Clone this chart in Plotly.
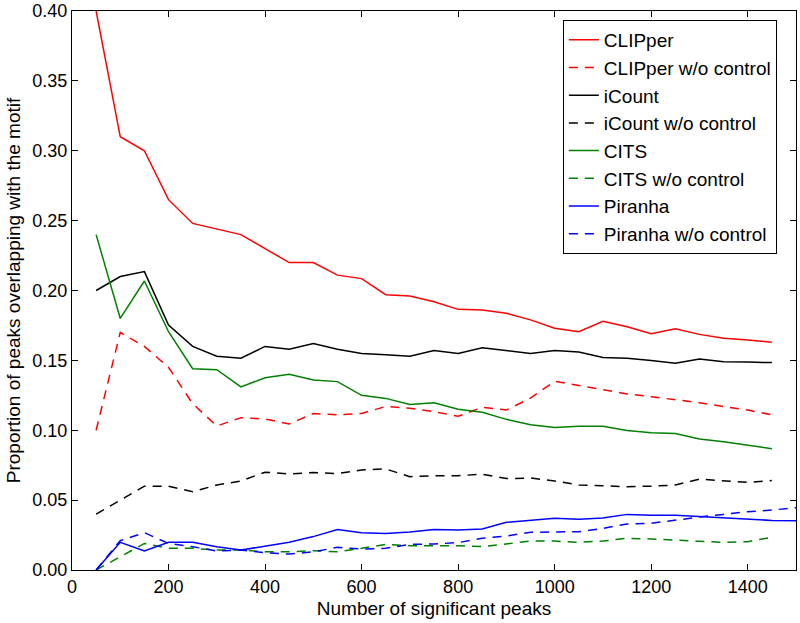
import plotly.graph_objects as go

peaks = [50, 100, 150, 200, 250, 300, 350, 400, 450, 500, 550, 600, 650, 700, 750,
         800, 850, 900, 950, 1000, 1050, 1100, 1150, 1200, 1250, 1300, 1350, 1400, 1450]
peaks_piranha = peaks + [1500]

clipper = [0.400, 0.310, 0.300, 0.265, 0.248, 0.244, 0.240, 0.230, 0.220, 0.220, 0.211, 0.2085, 0.197, 0.196, 0.192,
           0.1865, 0.186, 0.1837, 0.179, 0.173, 0.1705, 0.178, 0.174, 0.169, 0.1727, 0.1686, 0.1658, 0.1646, 0.163]
clipper_noctl = [0.100, 0.170, 0.160, 0.145, 0.119, 0.103, 0.109, 0.108, 0.1045, 0.112, 0.111, 0.112, 0.117, 0.1157, 0.1133,
                 0.110, 0.1164, 0.1145, 0.123, 0.135, 0.132, 0.129, 0.126, 0.124, 0.122, 0.1197, 0.117, 0.1145, 0.111]
icount = [0.200, 0.210, 0.2135, 0.1753, 0.160, 0.153, 0.1515, 0.160, 0.158, 0.162, 0.158, 0.155, 0.154, 0.153, 0.157,
          0.155, 0.159, 0.157, 0.155, 0.157, 0.156, 0.152, 0.1515, 0.150, 0.148, 0.151, 0.149, 0.1488, 0.1484]
icount_noctl = [0.040, 0.050, 0.060, 0.060, 0.056, 0.0608, 0.0637, 0.070, 0.0687, 0.0697, 0.069, 0.0716, 0.0723, 0.0668, 0.0675,
                0.0675, 0.0685, 0.0654, 0.0658, 0.0637, 0.0608, 0.0603, 0.0596, 0.060, 0.0608, 0.065, 0.064, 0.0627, 0.064]
cits = [0.240, 0.180, 0.2068, 0.1705, 0.144, 0.1433, 0.131, 0.1376, 0.140, 0.136, 0.1348, 0.125, 0.1228, 0.1185, 0.1197,
        0.115, 0.1128, 0.1078, 0.104, 0.102, 0.1028, 0.1028, 0.0999, 0.0983, 0.0976, 0.0937, 0.0918, 0.0894, 0.0868]
cits_noctl = [0.000, 0.0095, 0.019, 0.0155, 0.0155, 0.0143, 0.0143, 0.013, 0.013, 0.0138, 0.013, 0.0155, 0.0184, 0.0174, 0.0174,
              0.0174, 0.0167, 0.0186, 0.0207, 0.0207, 0.0198, 0.0207, 0.0227, 0.0222, 0.0212, 0.0205, 0.0198, 0.0203, 0.0234]
piranha = [0.000, 0.0198, 0.0136, 0.0198, 0.0198, 0.0167, 0.0143, 0.0172, 0.0198, 0.0239, 0.029, 0.0267, 0.0262, 0.0272, 0.029,
           0.0286, 0.0293, 0.0341, 0.0358, 0.037, 0.0363, 0.0372, 0.0398, 0.0391, 0.0391, 0.0382, 0.0374, 0.0367, 0.0355, 0.0353]
piranha_noctl = [0.000, 0.021, 0.0267, 0.019, 0.0167, 0.0136, 0.0143, 0.0124, 0.0114, 0.013, 0.0162, 0.015, 0.0155, 0.0184, 0.0186,
                 0.0196, 0.0227, 0.0243, 0.027, 0.0272, 0.0274, 0.0298, 0.0329, 0.0334, 0.0358, 0.0379, 0.0398, 0.0417, 0.0429, 0.0446]

series = [
    ("CLIPper", peaks, clipper, "#ff0000", "solid"),
    ("CLIPper w/o control", peaks, clipper_noctl, "#ff0000", "9px,7px"),
    ("iCount", peaks, icount, "#000000", "solid"),
    ("iCount w/o control", peaks, icount_noctl, "#000000", "9px,7px"),
    ("CITS", peaks, cits, "#008000", "solid"),
    ("CITS w/o control", peaks, cits_noctl, "#008000", "9px,7px"),
    ("Piranha", peaks_piranha, piranha, "#0000ff", "solid"),
    ("Piranha w/o control", peaks_piranha, piranha_noctl, "#0000ff", "9px,7px"),
]

fig = go.Figure()
for i, (name, xs, ys, color, dash) in enumerate(series):
    fig.add_trace(go.Scatter(x=xs, y=ys, mode="lines", name=name,
                             line=dict(color=color, width=1.5, dash=dash)))

fam = "Liberation Sans, Arial, sans-serif"
tickfont = dict(family=fam, size=18, color="black")
titlefont = dict(family=fam, size=19, color="black")
fig.update_layout(
    width=800, height=623,
    margin=dict(l=72, r=4, t=11, b=53),
    paper_bgcolor="white", plot_bgcolor="white",
    font=titlefont,
    showlegend=True,
    legend=dict(x=0.678, y=0.984, xanchor="left", yanchor="top",
                bordercolor="black", borderwidth=1, bgcolor="white",
                font=dict(family=fam, size=19, color="black")),
    xaxis=dict(range=[0, 1500], dtick=200, tick0=0, showgrid=False, zeroline=False,
               showline=True, linecolor="black", linewidth=1, mirror="allticks",
               ticks="inside", ticklen=6, tickcolor="black", tickfont=tickfont,
               automargin=False,
               title=dict(text="Number of significant peaks", standoff=6, font=titlefont)),
    yaxis=dict(range=[0, 0.40], dtick=0.05, tick0=0, tickformat=".2f", showgrid=False, zeroline=False,
               showline=True, linecolor="black", linewidth=1, mirror="allticks",
               ticks="inside", ticklen=6, tickcolor="black", tickfont=tickfont,
               automargin=False,
               title=dict(text="Proportion of peaks overlapping with the motif", standoff=6, font=titlefont)),
)

fig.write_html("out.html", config={"displayModeBar": False},
               post_script="document.body.style.margin='0px';document.body.style.overflow='hidden';")
